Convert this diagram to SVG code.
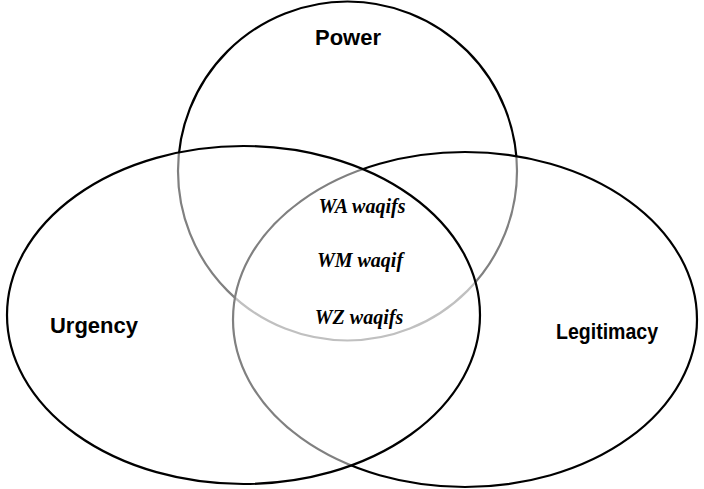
<svg xmlns="http://www.w3.org/2000/svg" width="704" height="489" viewBox="0 0 704 489">
  <style>
    .set { fill: #ffffff; fill-opacity: 0.5; stroke: #000000; stroke-width: 2.2; }
    .title { font-family: "Liberation Sans", Arial, sans-serif; font-weight: bold; font-size: 22px; fill: #000000; text-anchor: middle; }
    .member { font-family: "Liberation Serif", "Times New Roman", serif; font-weight: bold; font-style: italic; font-size: 20px; fill: #000000; text-anchor: middle; }
  </style>
  <rect width="704" height="489" fill="#ffffff"/>
  <!-- Sets drawn back to front; the translucent fills fade the edges they cover -->
  <g id="power">
    <ellipse class="set" cx="347.5" cy="171" rx="169.5" ry="169.5"/>
  </g>
  <g id="legitimacy">
    <ellipse class="set" cx="465" cy="319.5" rx="232" ry="167.5"/>
  </g>
  <g id="urgency">
    <ellipse class="set" cx="243.5" cy="315" rx="236.5" ry="169"/>
  </g>
  <!-- Set labels -->
  <g id="labels">
    <text class="title" x="348" y="45">Power</text>
    <text class="title" x="94" y="333">Urgency</text>
    <text class="title" x="607" y="339" textLength="102" lengthAdjust="spacingAndGlyphs">Legitimacy</text>
  </g>
  <!-- Members of the common intersection -->
  <g id="members">
    <text class="member" x="362" y="213">WA waqifs</text>
    <text class="member" x="360" y="267">WM waqif</text>
    <text class="member" x="359" y="324">WZ waqifs</text>
  </g>
</svg>
